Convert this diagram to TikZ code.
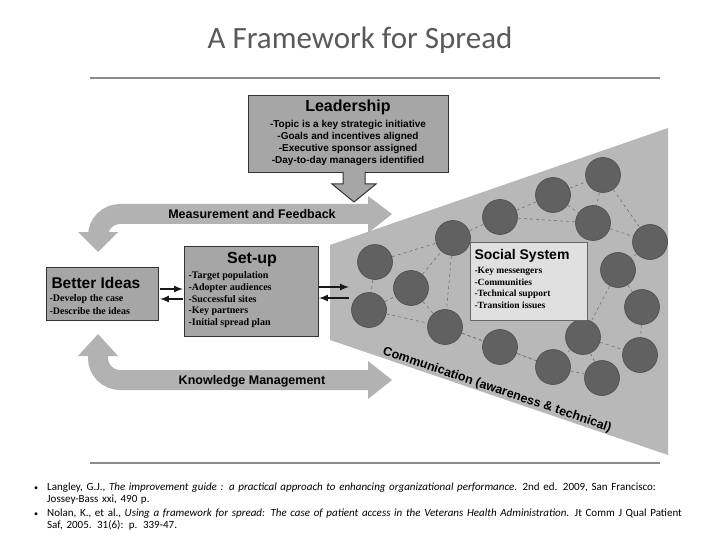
\documentclass[tikz,border=0pt]{standalone}
\usepackage{fontspec}
\setmainfont{Liberation Serif}
\setsansfont{Liberation Sans}
\newfontfamily\calib{Carlito}
\begin{document}
\begin{tikzpicture}[x=1pt,y=-1pt,
  box/.style={draw=black!80,line width=1.2pt,fill=black!35,inner sep=3pt},
  pers/.style={circle,draw=black!70,fill=black!62,minimum size=35pt,inner sep=0pt,line width=0.6pt},
  link/.style={draw=black!55,dashed,line width=0.6pt},
  blk/.style={-latex,line width=2pt,black!90}]
\useasboundingbox (0,0) rectangle (720,540);
\node[font=\calib\fontsize{31}{32}\selectfont,text=black!65] (title) at (360,40) {A Framework for Spread};
\draw[black!45,line width=1.5pt] (90,78) -- (660,78);
\draw[black!45,line width=1.5pt] (90,463) -- (660,463);
% cone
\fill[black!28] (330,245) -- (668,128) -- (668,455) -- (330,340) -- cycle;
% bands
\draw[black!30,line width=20pt,rounded corners=22pt] (372,214) -- (98,214) -- (98,236);
\fill[black!30] (78,232) -- (118,232) -- (98,252) -- cycle;
\fill[black!30] (368,196) -- (392,214) -- (368,233) -- cycle;
\draw[black!30,line width=20pt,rounded corners=22pt] (372,380) -- (98,380) -- (98,352);
\fill[black!30] (78,356) -- (118,356) -- (98,334) -- cycle;
\fill[black!30] (368,361) -- (392,380) -- (368,399) -- cycle;
\node[font=\sffamily\bfseries\fontsize{12.5}{13}\selectfont] (mf) at (252,214) {Measurement and Feedback};
\node[font=\sffamily\bfseries\fontsize{12.5}{13}\selectfont] (km) at (252,381) {Knowledge Management};
% leadership
\node[box,minimum width=200pt,minimum height=77pt,anchor=north west] (lead) at (248,95) {};
\node[font=\sffamily\bfseries\fontsize{16}{17}\selectfont] (leadt) at (348,107) {Leadership};
\node[font=\sffamily\bfseries\fontsize{10}{12.2}\selectfont,align=center] (leadl) at (348,143) {-Topic is a key strategic initiative\\-Goals and incentives aligned\\-Executive sponsor assigned\\-Day-to-day managers identified};
\fill[black!35,draw=black!80,line width=1pt] (343,172) -- (343,184) -- (332,184) -- (354,202) -- (376,184) -- (365,184) -- (365,172);
% better ideas
\node[box,minimum width=112pt,minimum height=53pt,anchor=north west] (bi) at (46,267) {};
\node[font=\sffamily\bfseries\fontsize{15.5}{16}\selectfont,anchor=west] (bit) at (48,283) {Better Ideas};
\node[font=\bfseries\fontsize{10}{13}\selectfont,align=left,anchor=north west] (bil) at (46,291) {-Develop the case\\-Describe the ideas};
% setup
\node[box,minimum width=134pt,minimum height=90pt,anchor=north west] (su) at (184,246) {};
\node[font=\sffamily\bfseries\fontsize{16}{17}\selectfont] (sut) at (252,260) {Set-up};
\node[font=\bfseries\fontsize{10}{11.8}\selectfont,align=left,anchor=north west] (sul) at (185,268) {-Target population\\-Adopter audiences\\-Successful sites\\-Key partners\\-Initial spread plan};
\draw[blk] (160,289) -- (183,289);
\draw[blk] (183,299) -- (160,299);
\draw[blk] (319,287) -- (349,287);
\draw[blk] (349,298) -- (319,298);
% people
\foreach \n/\x/\y in {1/375/262,2/369/310,3/411/288,4/453/238,5/445/327,6/500/217,7/500/347,8/553/195,9/553/367,10/603/175,11/593/223,12/583/337,13/602/378,14/650/242,15/618/270,16/642/307,17/640/355}
  \coordinate (c\n) at (\x,\y);
\foreach \a/\b in {1/4,1/2,2/3,3/4,4/5,2/5,3/5,5/7,5/9,4/6,6/8,6/11,8/10,8/11,10/11,10/14,11/14,14/15,15/12,15/16,16/17,12/17,12/9,12/13,7/9,9/13}
  \draw[link] (c\a) -- (c\b);
\foreach \n in {1,...,17} \node[pers] (p\n) at (c\n) {};
\node[draw=black!60,fill=black!12,minimum width=117pt,minimum height=78pt,anchor=north west] (ss) at (470,242) {};
\node[font=\sffamily\bfseries\fontsize{14}{15}\selectfont,anchor=west] (sst) at (471,256) {Social System};
\node[font=\bfseries\fontsize{9.5}{11.5}\selectfont,align=left,anchor=north west] (ssl) at (471,264) {-Key messengers\\-Communities\\-Technical support\\-Transition issues};
\node[font=\sffamily\bfseries\fontsize{12.5}{13}\selectfont,rotate=-18.8] (comm) at (497,390) {Communication (awareness \& technical)};
% references
\node[font=\calib\fontsize{8}{10}\selectfont] (b1) at (36,489) {•};
\node[font=\calib\fontsize{8}{10}\selectfont] (b2) at (36,515) {•};
\node[font=\calib\fontsize{11}{11.5}\selectfont,align=left,anchor=north west,text width=670pt,inner sep=0pt] (r1) at (47,483) {Langley, G.J., \textit{The improvement guide : a practical approach to enhancing organizational performance}. 2nd ed. 2009, San Francisco:\\Jossey-Bass xxi, 490 p.};
\node[font=\calib\fontsize{11}{11.5}\selectfont,align=left,anchor=north west,text width=670pt,inner sep=0pt] (r2) at (47,509) {Nolan, K., et al., \textit{Using a framework for spread: The case of patient access in the Veterans Health Administration}. Jt Comm J Qual Patient\\Saf, 2005. 31(6): p. 339-47.};
\end{tikzpicture}
\end{document}
